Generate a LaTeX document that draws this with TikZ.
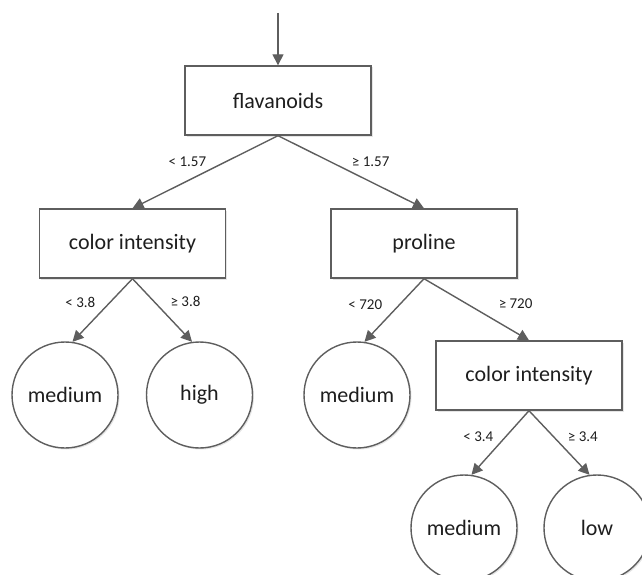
\documentclass[tikz,border=0pt]{standalone}
\usepackage{fontspec}
\setmainfont{Carlito}
\usepackage{tikz}
\usepackage{xcolor}
\usetikzlibrary{arrows.meta}
\usetikzlibrary{positioning, shadows}
\definecolor{linegray}{HTML}{5E5E5E}
\definecolor{textgray}{HTML}{1E1E1E}

\begin{document}
\begin{tikzpicture}[x=1pt, y=-1pt,
        split/.style={draw=linegray, line width=1.4pt, fill=white, text=textgray,
            minimum width=186pt, minimum height=69pt, font=\fontsize{22}{24}\selectfont,
            drop shadow={shadow xshift=1.5pt, shadow yshift=-1.5pt, opacity=.25, fill=black!40}},
        leaf/.style={circle, draw=linegray, line width=1.4pt, fill=white, text=textgray,
            minimum size=106pt, font=\fontsize{22}{24}\selectfont,
            drop shadow={shadow xshift=1.5pt, shadow yshift=-1.5pt, opacity=.25, fill=black!40}},
        branch/.style={draw=linegray, line width=1.4pt, -{Triangle[length=11pt,width=11pt]}},
        cond/.style={font=\fontsize{15}{15}\selectfont, text=textgray, inner sep=0pt}]
    \useasboundingbox (0,0) rectangle (642,575);

    \coordinate (entry) at (278,13);
    \node[split] (flav) at (278,100.5) {flavanoids}; % root split
    \node[split] (ci1) at (132.5,243.5) {color intensity};
    \node[split] (prol) at (424,243.5) {proline};
    \node[leaf] (m1) at (65,395) {medium};
    \node[leaf] (hi) at (199.5,395) {high};
    \node[leaf] (m2) at (357,395) {medium};
    \node[split] (ci2) at (529,375.5) {color intensity}; % second split on colour
    \node[leaf] (m3) at (464,528) {medium};
    \node[leaf] (lo) at (597,528) {low};

    \draw[branch] (entry) -- (flav.north);
    \draw[branch] (flav.south) -- node[cond, pos=.365, left=18pt] {< 1.57} (ci1.north);
    \draw[branch] (flav.south) -- node[cond, pos=.365, right=20pt] {≥ 1.57} (prol.north);
    \draw[branch] (ci1.south) -- node[cond, pos=.375, left=14pt] {< 3.8} (m1.82);
    \draw[branch] (ci1.south) -- node[cond, pos=.36, right=16pt] {≥ 3.8} (hi.98);
    \draw[branch] (prol.south) -- node[cond, pos=.406, left=17pt] {< 720} (m2.82);
    \draw[branch] (prol.south) -- node[cond, pos=.41, right=31pt] {≥ 720} (ci2.north);
    \draw[branch] (ci2.south) -- node[cond, pos=.4, left=12pt] {< 3.4} (m3.82);
    \draw[branch] (ci2.south) -- node[cond, pos=.4, right=14pt] {≥ 3.4} (lo.98);
\end{tikzpicture}
\end{document}
